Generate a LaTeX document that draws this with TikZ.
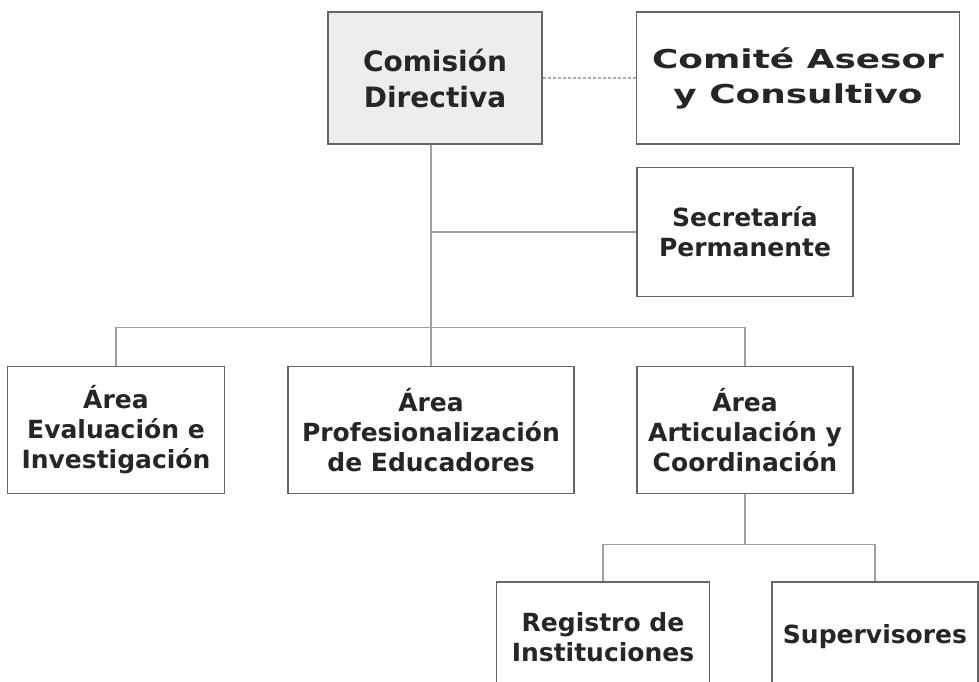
\documentclass[tikz,border=0pt]{standalone}
\usepackage{fontspec}
\setmainfont{DejaVu Sans}
\usepackage{tikz}
\usetikzlibrary{positioning}

\begin{document}
\begin{tikzpicture}[x=1pt, y=-1pt]
    % Define styles
    \tikzstyle{unit} = [rectangle, draw=gray!80!black, line width=1.6pt, fill=white, align=center, text=black!85, font=\bfseries\fontsize{25}{30}\selectfont, inner sep=2pt]
    \tikzstyle{line} = [draw=gray!75, line width=1.4pt]
    \tikzstyle{link} = [draw=gray!65, line width=1.4pt, dash pattern=on 3pt off 2pt]

    \useasboundingbox (0,0) rectangle (979,681);

    % Top level
    \node[unit, fill=black!7, minimum width=214pt, minimum height=132pt, font=\bfseries\fontsize{28}{36}\selectfont] (CD) at (435,78) {Comisión\\Directiva};
    \node[unit, minimum width=323pt, minimum height=132pt, font=\bfseries\fontsize{26}{35}\selectfont] (CAC) at (798,78) {\scalebox{1.38}[1]{Comité Asesor}\\\scalebox{1.38}[1]{y Consultivo}};
    \node[unit, minimum width=216pt, minimum height=129pt] (SP) at (745,232) {Secretaría\\Permanente};

    % Areas
    \node[unit, minimum width=217pt, minimum height=127pt] (AEI) at (116,430) {Área\\Evaluación e\\Investigación};
    \node[unit, minimum width=286pt, minimum height=127pt] (APE) at (431,430) {Área\\Profesionalización\\de Educadores};
    \node[unit, minimum width=216pt, minimum height=127pt] (AAC) at (745,430) {Área\\Articulación y\\Coordinación};

    % Below Articulacion
    \node[unit, minimum width=213pt, minimum height=110pt] (RI) at (603,637) {Registro de\\Instituciones};
    \node[unit, minimum width=206pt, minimum height=110pt] (SV) at (875,637) {Supervisores};

    % Connections
    \draw[link] (CD.east) -- (CAC.west);
    \draw[line] (CD.south -| APE.north) -- (APE.north);
    \draw[line] (APE.north |- SP.west) -- (SP.west);
    \draw[line] (AEI.north) -- ++(0,-38) -| (AAC.north);
    \draw[line] (AAC.south) -- ++(0,50) coordinate (split);
    \draw[line] (RI.north) |- (split) -| (SV.north);
\end{tikzpicture}
\end{document}
